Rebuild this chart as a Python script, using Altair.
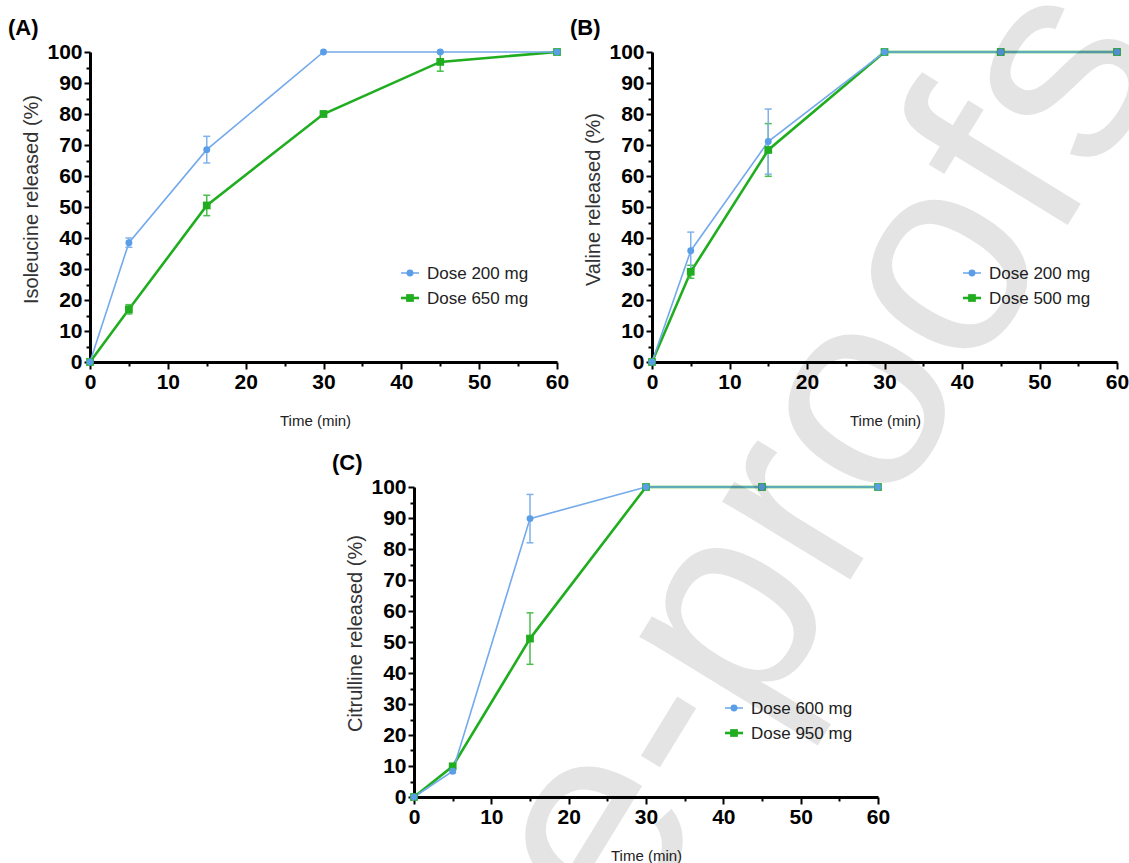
import altair as alt
import pandas as pd

# ---------------- data ----------------
time = [0, 5, 15, 30, 45, 60]

a_low_label, a_high_label = "Dose 200 mg", "Dose 650 mg"
a_low = [0, 38.5, 68.5, 100, 100, 100]
a_low_err = [0, 1.5, 4.3, 0, 0, 0]
a_high = [0, 17.0, 50.5, 80.0, 96.8, 100]
a_high_err = [0, 1.5, 3.3, 0.8, 3.0, 0]

b_low_label, b_high_label = "Dose 200 mg", "Dose 500 mg"
b_low = [0, 35.9, 71.1, 100, 100, 100]
b_low_err = [0, 6.0, 10.5, 0, 0, 0]
b_high = [0, 29.1, 68.4, 100, 100, 100]
b_high_err = [0, 2.1, 8.5, 0, 0, 0]

c_low_label, c_high_label = "Dose 600 mg", "Dose 950 mg"
c_low = [0, 8.3, 89.8, 100, 100, 100]
c_low_err = [0, 0.5, 7.8, 0, 0, 0]
c_high = [0, 9.9, 51.1, 100, 100, 100]
c_high_err = [0, 0.5, 8.3, 0, 0, 0]

x_ticks = list(range(0, 61, 5))
y_ticks = list(range(0, 101, 5))
x_title = "Time (min)"
watermark_text = "Journal Pre-proofs"

# ---------------- style ----------------
W, H = 1129, 863
BLUE = "#5b9ee8"
BLUE_LINE = "#74aaec"
BLUE_ERR = "#7fb2ea"
GREEN = "#20ad20"
GREEN_ERR = "#4bbd4b"
FONT = "Liberation Sans"


def series_df(vals, errs):
    df = pd.DataFrame({"t": time, "v": vals, "e": errs})
    df["lo"] = df["v"] - df["e"]
    df["hi"] = df["v"] + df["e"]
    return df


def panel(low, low_err, high, high_err, y_title, x0, x1, y0, y1, x_title_x,
          y_title_y, labels, tag):
    xs = alt.Scale(domain=[0, 60], range=[x0, x1], nice=False, zero=False)
    ys = alt.Scale(domain=[0, 100], range=[y0, y1], nice=False, zero=False)
    major = "datum.value % 10 == 0"
    x_axis = alt.Axis(
        orient="bottom", offset=y0 - H, values=x_ticks,
        labelExpr=f"{major} ? datum.label : ''",
        tickSize={"condition": {"test": major, "value": 7}, "value": 4},
        tickWidth=2, tickColor="black", domainColor="black", domainWidth=3,
        labelFont=FONT, labelFontSize=21, labelFontWeight="bold",
        labelColor="black", labelPadding=2, labelFlush=False,
        labelOverlap=False, grid=False,
        title=x_title, titleFont=FONT, titleFontSize=15,
        titleFontWeight="normal", titleColor="#222", titlePadding=21,
        titleX=x_title_x)
    y_axis = alt.Axis(
        orient="left", offset=-x0, values=y_ticks,
        labelExpr=f"{major} ? datum.label : ''",
        tickSize={"condition": {"test": major, "value": 6}, "value": 4},
        tickWidth=2, tickColor="black", domainColor="black", domainWidth=3,
        labelFont=FONT, labelFontSize=21, labelFontWeight="bold",
        labelColor="black", labelPadding=2, labelFlush=False,
        labelOverlap=False, grid=False,
        title=y_title, titleFont=FONT, titleFontSize=20,
        titleFontWeight="normal", titleColor="#333", titlePadding=5,
        titleY=y_title_y)
    lo_df = series_df(low, low_err)
    hi_df = series_df(high, high_err)
    lo_e = lo_df[lo_df["e"] > 0]
    hi_e = hi_df[hi_df["e"] > 0]

    # same scale + axis objects in every layer so the shared axis survives
    def X():
        return alt.X("t:Q", scale=xs, axis=x_axis)

    def Y(field="v"):
        return alt.Y(f"{field}:Q", scale=ys, axis=y_axis)

    layers = [
        alt.Chart(hi_df).mark_line(color=GREEN, strokeWidth=2.6).encode(
            x=X(), y=Y()),
        alt.Chart(lo_df).mark_line(color=BLUE_LINE, strokeWidth=1.6).encode(
            x=X(), y=Y()),
    ]
    for d, col in ((hi_e, GREEN_ERR), (lo_e, BLUE_ERR)):
        layers.append(alt.Chart(d).mark_rule(color=col, strokeWidth=1.5).encode(
            x=X(), y=Y("lo"), y2="hi:Q"))
        for f in ("lo", "hi"):
            layers.append(alt.Chart(d).mark_rule(
                color=col, strokeWidth=1.5, xOffset=-3.5, x2Offset=3.5).encode(
                x=X(), x2="t:Q", y=Y(f)))
    layers.append(alt.Chart(hi_df).mark_point(
        shape="square", filled=True, size=60, color=GREEN, opacity=1).encode(
        x=X(), y=Y()))
    layers.append(alt.Chart(lo_df).mark_point(
        shape="circle", filled=True, size=48, color=BLUE, opacity=1).encode(
        x=X(), y=Y()))

    lx = x0 + 320
    ly = y1 + 221
    for i, (lab, col, shp, sw, sz) in enumerate(
            ((labels[0], BLUE, "circle", 1.6, 48),
             (labels[1], GREEN, "square", 2.6, 60))):
        yy = ly + 25 * i
        ldf = pd.DataFrame({"label": [lab]})
        lcol = BLUE_LINE if i == 0 else GREEN
        layers.append(alt.Chart(ldf).mark_rule(color=lcol, strokeWidth=sw).encode(
            x=alt.value(lx - 9), x2=alt.value(lx + 9), y=alt.value(yy)))
        layers.append(alt.Chart(ldf).mark_point(
            shape=shp, filled=True, size=sz, color=col, opacity=1).encode(
            x=alt.value(lx), y=alt.value(yy)))
        layers.append(alt.Chart(ldf).mark_text(
            font=FONT, fontSize=17, color="#222", align="left",
            baseline="middle").encode(
            x=alt.value(lx + 17), y=alt.value(yy + 1), text="label:N"))
    tdf = pd.DataFrame({"tag": [tag]})
    layers.append(alt.Chart(tdf).mark_text(
        font=FONT, fontSize=22, fontWeight="bold", color="black",
        align="left", baseline="middle").encode(
        x=alt.value(x0 - 82), y=alt.value(y1 - 24), text="tag:N"))
    return alt.layer(*layers)


# translucent overlay watermark (drawn last, like a PDF stamp)
wm = alt.Chart(pd.DataFrame({"w": [watermark_text]})).mark_text(
    font=FONT, fontSize=284, color="#000000", opacity=0.1, angle=301.5,
    align="right", baseline="alphabetic").encode(
    x=alt.value(1170), y=alt.value(58), text="w:N")

pa = panel(a_low, a_low_err, a_high, a_high_err, "Isoleucine released (%)",
           90, 557, 362, 52, 315, 199, (a_low_label, a_high_label), "(A)")
pb = panel(b_low, b_low_err, b_high, b_high_err, "Valine released (%)",
           652, 1117, 362, 52, 885, 199, (b_low_label, b_high_label), "(B)")
pc = panel(c_low, c_low_err, c_high, c_high_err, "Citrulline released (%)",
           414, 878, 797, 487, 646, 633, (c_low_label, c_high_label), "(C)")

chart = alt.layer(pa, pb, pc, wm).resolve_scale(
    x="independent", y="independent").resolve_axis(
    x="independent", y="independent").properties(
    width=W, height=H, padding=0,
    autosize=alt.AutoSizeParams(type="none"),
    background="white").configure_view(strokeWidth=0)

chart.save("out.html", embed_options={"renderer": "svg", "actions": False})
